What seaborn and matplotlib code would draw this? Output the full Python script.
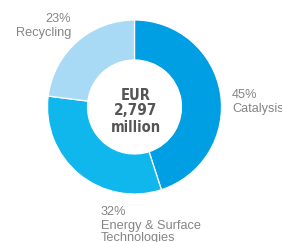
import matplotlib
matplotlib.use("Agg")
import matplotlib.pyplot as plt
import seaborn as sns

segments = ["Catalysis", "Energy & Surface\nTechnologies", "Recycling"]
shares = [45, 32, 23]
seg_colors = ["#009fe3", "#0fb7ed", "#a8daf5"]
total_label = "2,797"

sns.set_theme(style="white")
plt.rcParams["font.family"] = ["Liberation Sans", "DejaVu Sans"]

fig = plt.figure(figsize=(2.82, 2.42), dpi=100)
ax = fig.add_axes([0, 0, 1, 1])

# donut, clockwise from the top
ax.pie(
    shares,
    colors=sns.color_palette(seg_colors),
    startangle=90,
    counterclock=False,
    center=(134.5, 135),
    radius=87,
    wedgeprops=dict(width=40, edgecolor="white", linewidth=0.9),
    frame=True,
)
ax.set_xlim(0, 282)
ax.set_ylim(0, 242)
ax.set_aspect("equal")
ax.axis("off")

# centre total
ax.text(135.5, 142, "EUR", ha="center", va="baseline", fontsize=10.5,
        fontweight="semibold", fontstretch="condensed", color="#555555",
        family="DejaVu Sans")
ax.text(135.5, 127, total_label, ha="center", va="baseline", fontsize=11,
        fontweight="bold", fontstretch="condensed", color="#555555",
        family="DejaVu Sans")
ax.text(135.5, 110, "million", ha="center", va="baseline", fontsize=10.5,
        fontweight="semibold", fontstretch="condensed", color="#555555",
        family="DejaVu Sans")

# outside labels
lab_color = "#858585"
lab_size = 9.2
ax.text(232, 144, f"{shares[0]}%", ha="left", va="baseline",
        fontsize=lab_size, color=lab_color)
ax.text(232, 130, segments[0], ha="left", va="baseline",
        fontsize=lab_size, color=lab_color)

ax.text(101, 27, f"{shares[1]}%", ha="left", va="baseline",
        fontsize=lab_size, color=lab_color)
ax.text(101, 1, segments[1], ha="left", va="baseline",
        fontsize=lab_size, color=lab_color, linespacing=1.0)

ax.text(71, 220, f"{shares[2]}%", ha="right", va="baseline",
        fontsize=lab_size, color=lab_color)
ax.text(71, 206, segments[2], ha="right", va="baseline",
        fontsize=lab_size, color=lab_color)

fig.savefig("out.png", dpi=100)
